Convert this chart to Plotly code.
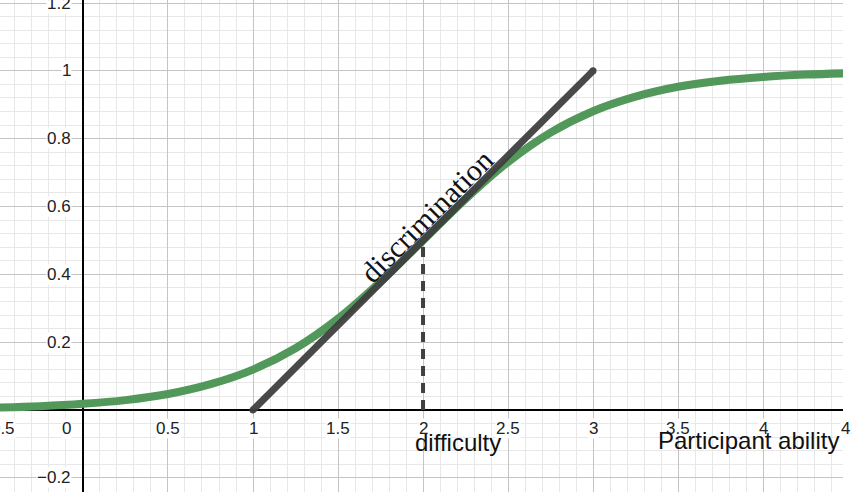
import plotly.graph_objects as go

# Item characteristic curve values
ability = [-0.5, -0.25, 0, 0.25, 0.5, 0.75, 1, 1.25, 1.5, 1.75, 2, 2.25, 2.5,
           2.75, 3, 3.25, 3.5, 3.75, 4, 4.25, 4.5]
prob = [0.007, 0.011, 0.018, 0.029, 0.047, 0.076, 0.119, 0.182, 0.269, 0.378,
        0.5, 0.622, 0.731, 0.818, 0.881, 0.924, 0.953, 0.971, 0.982, 0.989, 0.993]

# Tangent (discrimination) line endpoints
tangent_x = [1, 3]
tangent_y = [0, 1]

# Difficulty marker
difficulty_x = [2, 2]
difficulty_y = [0, 0.5]

x_ticks = [0, 0.5, 1, 1.5, 2, 2.5, 3, 3.5, 4]
x_tick_labels = ["0", "0.5", "1", "1.5", "2", "2.5", "3", "3.5", "4"]
y_ticks = [-0.2, 0.2, 0.4, 0.6, 0.8, 1, 1.2]
y_tick_labels = ["−0.2", "0.2", "0.4", "0.6", "0.8", "1", "1.2"]
X_MIN, X_MAX = -0.488, 4.47
edge_tick_labels = ["−0.5", "4.5"]

GREEN = "#52985a"
DARK = "#404040"

fig = go.Figure()
fig.add_trace(go.Scatter(x=ability, y=prob, mode="lines",
                         line=dict(color=GREEN, width=8, shape="spline"),
                         hoverinfo="skip", showlegend=False))
fig.add_trace(go.Scatter(x=tangent_x, y=tangent_y, mode="lines+markers",
                         line=dict(color=DARK, width=7),
                         marker=dict(color=DARK, size=7),
                         opacity=0.95, hoverinfo="skip", showlegend=False))
fig.add_trace(go.Scatter(x=difficulty_x, y=difficulty_y, mode="lines",
                         line=dict(color=DARK, width=4, dash="10px,7px"),
                         hoverinfo="skip", showlegend=False))

ann = []
tick_font = dict(family="Liberation Sans, Arial, sans-serif", size=17, color="#222222")
for v, t in zip(x_ticks, x_tick_labels):
    ann.append(dict(x=v, y=0, xref="x", yref="y", text=t, showarrow=False,
                    xanchor="center", yanchor="middle", yshift=-19,
                    xshift=-16 if v == 0 else 0,
                    bgcolor="white", borderpad=0, font=tick_font))
# partially visible labels at the left and right edges
ann.append(dict(x=X_MIN + 0.002, y=0, xref="x", yref="y", text=edge_tick_labels[0],
                showarrow=False, xanchor="center", yanchor="middle", yshift=-19, xshift=-2,
                bgcolor="white", borderpad=0, font=tick_font))
ann.append(dict(x=X_MAX - 0.002, y=0, xref="x", yref="y", text=edge_tick_labels[1],
                showarrow=False, xanchor="left", yanchor="middle", yshift=-19, xshift=-3,
                bgcolor="white", borderpad=0, font=tick_font))
for v, t in zip(y_ticks, y_tick_labels):
    ann.append(dict(x=0, y=v, xref="x", yref="y", text=t, showarrow=False,
                    xanchor="right", yanchor="middle", xshift=-11,
                    bgcolor="white", borderpad=0, font=tick_font))

label_font = dict(family="Liberation Sans, Arial, sans-serif", size=24, color="#111111")
ann.append(dict(x=1.94, y=0, xref="x", yref="y", text="difficulty", showarrow=False,
                xanchor="left", yanchor="middle", yshift=-33, font=label_font))
ann.append(dict(x=3.37, y=0, xref="x", yref="y", text="Participant ability", showarrow=False,
                xanchor="left", yanchor="middle", yshift=-31, font=label_font))
ann.append(dict(x=2.018, y=0.571, xref="x", yref="y", text="discrimination", showarrow=False,
                xanchor="center", yanchor="middle", textangle=-45,
                font=dict(family="Liberation Serif, Times New Roman, serif", size=30, color="#111111")))

fig.update_layout(
    width=852, height=492,
    margin=dict(l=0, r=9, t=0, b=0),
    paper_bgcolor="white", plot_bgcolor="white",
    annotations=ann,
    xaxis=dict(range=[X_MIN, X_MAX], dtick=0.5, tick0=0, showticklabels=False,
               showgrid=True, gridcolor="#c4c4c4", gridwidth=1,
               minor=dict(dtick=0.1, showgrid=True, gridcolor="#e8e8e8", gridwidth=1),
               zeroline=True, zerolinecolor="black", zerolinewidth=1.5,
               ticks="", showline=False),
    yaxis=dict(range=[-0.242, 1.209], dtick=0.2, tick0=0, showticklabels=False,
               showgrid=True, gridcolor="#c4c4c4", gridwidth=1,
               minor=dict(dtick=0.04, showgrid=True, gridcolor="#e8e8e8", gridwidth=1),
               zeroline=True, zerolinecolor="black", zerolinewidth=1.5,
               ticks="", showline=False),
)

fig.write_html("out.html", config={"displayModeBar": False},
               post_script="document.body.style.margin='0px';document.body.style.overflow='hidden';")
